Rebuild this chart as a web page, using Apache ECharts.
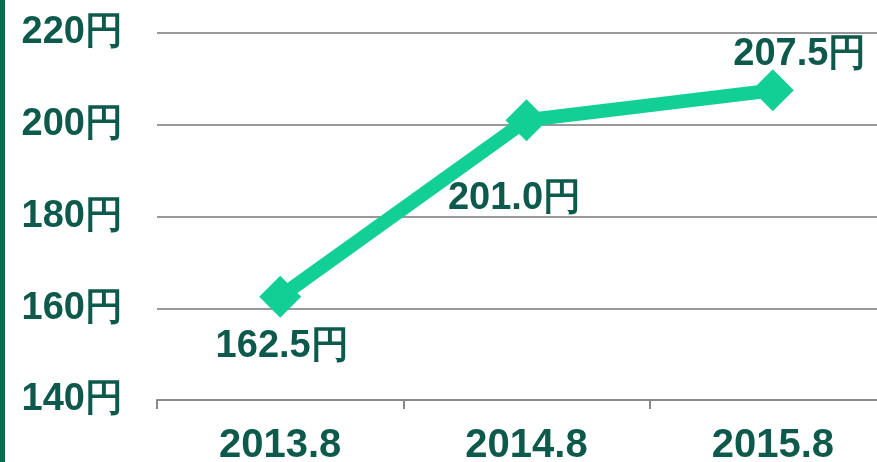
<!DOCTYPE html>
<html><head><meta charset="utf-8">
<script src="https://cdn.jsdelivr.net/npm/echarts@6/dist/echarts.min.js"></script>
<style>html,body{margin:0;padding:0;background:#fff}#c{width:877px;height:462px}</style>
</head><body><div id="c"></div>
<script>
var categories = ['2013.8', '2014.8', '2015.8'];
var values = [162.5, 201.0, 207.5];
var yTicks = [140, 160, 180, 200, 220];

var textColor = '#0d5a4c';
var font = '"Liberation Sans", Arial, sans-serif';
var labelPos = [
  {position: 'bottom', offset: [2, 0]},
  {position: 'bottom', offset: [-12, 28]},
  {position: 'top', offset: [27, 14]}
];
var chart = echarts.init(document.getElementById('c'));
chart.setOption({
  animation: false,
  graphic: [{type: 'rect', shape: {x: 0, y: 0, width: 5, height: 462}, style: {fill: '#0c6b4f'}}],
  grid: {left: 157, right: -19, top: 33, bottom: 62, outerBoundsMode: 'none', containLabel: false},
  xAxis: {
    type: 'category', data: categories, boundaryGap: true,
    axisLine: {lineStyle: {color: '#888', width: 2}},
    axisTick: {show: true, length: 9, inside: false, lineStyle: {color: '#888', width: 2}},
    axisLabel: {color: textColor, fontSize: 40, fontWeight: 'bold', fontFamily: font, margin: 26}
  },
  yAxis: {
    type: 'value', min: yTicks[0], max: yTicks[yTicks.length - 1], interval: 20,
    axisLine: {show: false}, axisTick: {show: false},
    splitLine: {lineStyle: {color: '#999', width: 2}},
    axisLabel: {color: textColor, fontSize: 38, fontWeight: 'bold', fontFamily: font, margin: 34,
      formatter: function (v) { return v + '円'; }}
  },
  series: [{
    type: 'line',
    data: values.map(function (v, i) {
      return {value: v, label: {position: labelPos[i].position, offset: labelPos[i].offset}};
    }),
    lineStyle: {color: '#12cf95', width: 14},
    itemStyle: {color: '#12cf95'},
    symbol: 'diamond', symbolSize: 42,
    label: {show: true, color: textColor, fontSize: 38, fontWeight: 'bold', fontFamily: font, distance: 10,
      formatter: function (p) { return p.value.toFixed(1) + '円'; }}
  }]
});
</script></body></html>
